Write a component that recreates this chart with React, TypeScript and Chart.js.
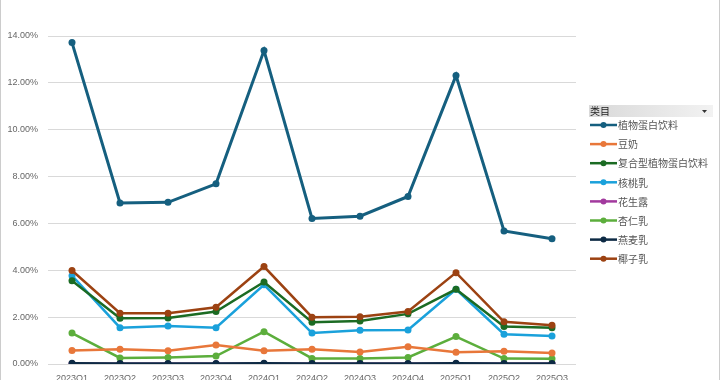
import React, { useEffect, useRef } from "react";
import { Chart, registerables } from "chart.js";

Chart.register(...registerables);

const categories = ["2023Q1", "2023Q2", "2023Q3", "2023Q4", "2024Q1", "2024Q2", "2024Q3", "2024Q4", "2025Q1", "2025Q2", "2025Q3"];
const seriesNames = ["植物蛋白饮料", "豆奶", "复合型植物蛋白饮料", "核桃乳", "花生露", "杏仁乳", "燕麦乳", "椰子乳"];
const plantProtein = [13.72, 6.87, 6.9, 7.69, 13.38, 6.21, 6.31, 7.15, 12.31, 5.68, 5.35];
const soyMilk = [0.58, 0.63, 0.57, 0.81, 0.57, 0.63, 0.51, 0.74, 0.5, 0.54, 0.47];
const compound = [3.55, 1.95, 1.96, 2.24, 3.5, 1.78, 1.84, 2.14, 3.19, 1.6, 1.55];
const walnut = [3.77, 1.55, 1.62, 1.55, 3.38, 1.32, 1.44, 1.45, 3.19, 1.27, 1.2];
const peanut = [0.01, 0.01, 0.01, 0.01, 0.01, 0.01, 0.01, 0.01, 0.01, 0.01, 0.01];
const almond = [1.32, 0.26, 0.28, 0.34, 1.38, 0.24, 0.24, 0.28, 1.17, 0.23, 0.22];
const oat = [0.03, 0.02, 0.02, 0.02, 0.03, 0.02, 0.02, 0.02, 0.03, 0.02, 0.02];
const coconut = [3.99, 2.17, 2.17, 2.42, 4.16, 2.0, 2.02, 2.24, 3.9, 1.8, 1.65];
const yTicks = [0, 2, 4, 6, 8, 10, 12, 14];
const legendTitle = "类目";

const seriesValues = [plantProtein, soyMilk, compound, walnut, peanut, almond, oat, coconut];
const colors = ["#155F7F", "#E8773A", "#1B6B23", "#1AA1DB", "#A23A9E", "#5CAE3C", "#0D2A44", "#9C4212"];
const drawOrder = [0, 5, 3, 4, 7, 6, 1, 2];

const legendPlugin = {
  id: "customLegend",
  afterDraw(chart: any) {
    const ctx = chart.ctx;
    ctx.save();
    const hx = 589, hy = 105, hw = 124, hh = 12;
    const g = ctx.createLinearGradient(hx, 0, hx + hw, 0);
    g.addColorStop(0, "#d9d9d9");
    g.addColorStop(1, "#f2f2f2");
    ctx.fillStyle = g;
    ctx.fillRect(hx, hy, hw, hh);
    ctx.fillStyle = "#222";
    ctx.font = "10px 'Noto Sans CJK SC', sans-serif";
    ctx.textBaseline = "middle";
    ctx.textAlign = "left";
    ctx.fillText(legendTitle, hx + 1, hy + hh / 2 + 0.5);
    ctx.beginPath();
    ctx.moveTo(702, 110);
    ctx.lineTo(707, 110);
    ctx.lineTo(704.5, 113);
    ctx.closePath();
    ctx.fillStyle = "#333";
    ctx.fill();
    chart.data.datasets.forEach((ds: any, i: number) => {
      const y = 125 + i * 19.1;
      ctx.strokeStyle = ds.borderColor;
      ctx.lineWidth = 2.5;
      ctx.beginPath();
      ctx.moveTo(590, y);
      ctx.lineTo(617, y);
      ctx.stroke();
      ctx.fillStyle = ds.borderColor;
      ctx.beginPath();
      ctx.arc(603.5, y, 3, 0, Math.PI * 2);
      ctx.fill();
      ctx.fillStyle = "#555";
      ctx.font = "10px 'Noto Sans CJK SC', sans-serif";
      ctx.fillText(ds.label, 618, y + 0.5);
    });
    ctx.restore();
  },
};

export default function App() {
  const ref = useRef<HTMLCanvasElement>(null);
  useEffect(() => {
    document.body.style.margin = "0";
    const chart = new Chart(ref.current!, {
      type: "line",
      data: {
        labels: categories,
        datasets: seriesNames.map((name, i) => ({
          label: name,
          data: seriesValues[i],
          borderColor: colors[i],
          backgroundColor: colors[i],
          borderWidth: i === 0 ? 3 : 2.5,
          pointRadius: 3.5,
          pointBorderWidth: 0,
          pointBackgroundColor: colors[i],
          tension: 0,
          order: drawOrder[i],
        })),
      },
      options: {
        responsive: false,
        animation: false,
        layout: { padding: { top: 36, right: 144, left: 0, bottom: 0 } },
        plugins: { legend: { display: false }, tooltip: { enabled: false } },
        scales: {
          x: {
            offset: true,
            grid: { display: false, drawTicks: false },
            border: { display: false },
            ticks: { color: "#666", font: { size: 9, family: "'Liberation Sans', Arial, sans-serif" }, padding: 9, maxRotation: 0, autoSkip: false },
            afterFit(scale: any) { scale.height = 36; },
          },
          y: {
            min: 0,
            max: 14,
            afterBuildTicks(scale: any) { scale.ticks = yTicks.map((v) => ({ value: v })); },
            grid: { color: "#d9d9d9", lineWidth: 1, drawTicks: false },
            border: { display: false },
            ticks: {
              color: "#666",
              font: { size: 9, family: "'Liberation Sans', Arial, sans-serif" },
              padding: 10,
              callback: (v: any) => Number(v).toFixed(2) + "%",
            },
            afterFit(scale: any) { scale.width = 48; },
          },
        },
      },
      plugins: [legendPlugin],
    });
    return () => chart.destroy();
  }, []);
  return (
    <div style={{ width: 720, height: 380, overflow: "hidden", position: "relative", background: "#fff", boxSizing: "border-box", borderLeft: "1px solid #ccc", borderRight: "1px solid #ccc" }}>
      <canvas ref={ref} width={720} height={400} style={{ position: "absolute", left: -1, top: 0, width: 720, height: 400 }} />
    </div>
  );
}
